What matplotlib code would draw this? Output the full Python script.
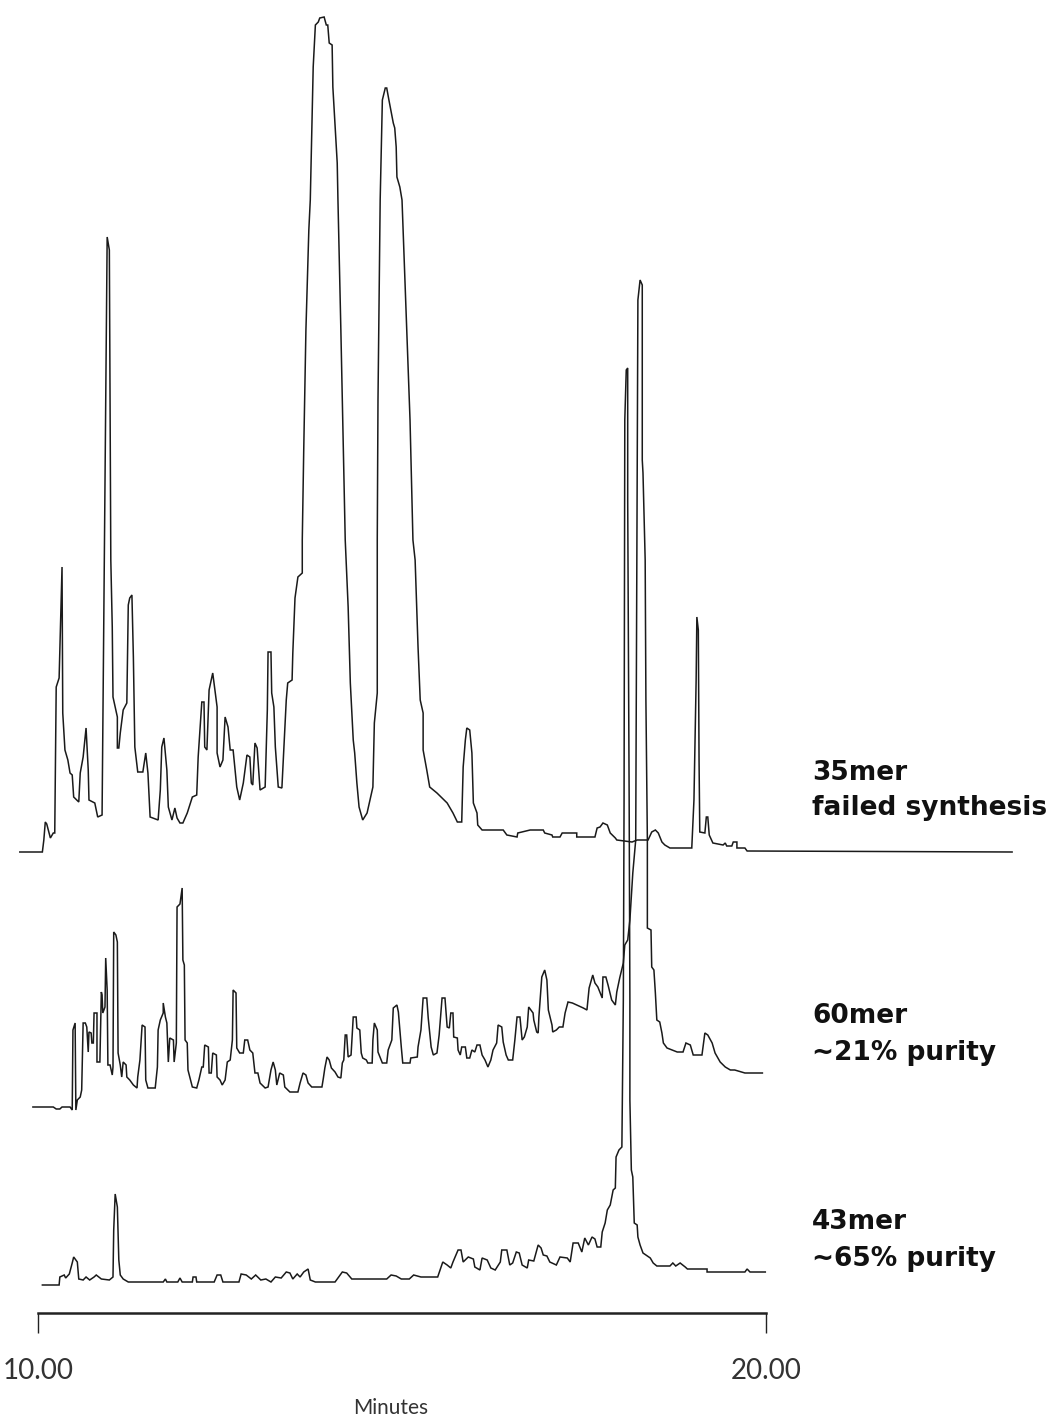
import matplotlib
matplotlib.use('Agg')
import matplotlib.pyplot as plt

# retention time (min) and detector signal (arbitrary units above each trace's baseline)
t_35mer = [9.75, 10.06, 10.08, 10.10, 10.12, 10.17, 10.21, 10.23, 10.25, 10.29, 10.33, 10.34, 10.37, 10.41,
           10.44, 10.47, 10.49, 10.56, 10.58, 10.62, 10.66, 10.69, 10.70, 10.78, 10.82, 10.88, 10.93, 10.95,
           10.98, 11.00, 11.02, 11.03, 11.09, 11.09, 11.11, 11.13, 11.17, 11.22, 11.24, 11.26, 11.29, 11.31,
           11.33, 11.37, 11.44, 11.48, 11.51, 11.54, 11.65, 11.68, 11.70, 11.73, 11.77, 11.79, 11.84, 11.88,
           11.91, 11.95, 11.99, 12.05, 12.12, 12.18, 12.20, 12.25, 12.28, 12.29, 12.32, 12.35, 12.40, 12.46,
           12.46, 12.50, 12.54, 12.57, 12.61, 12.64, 12.68, 12.73, 12.77, 12.82, 12.87, 12.91, 12.93, 12.95,
           12.98, 13.01, 13.05, 13.12, 13.15, 13.16, 13.20, 13.21, 13.24, 13.26, 13.30, 13.35, 13.37, 13.41,
           13.43, 13.49, 13.50, 13.53, 13.57, 13.63, 13.63, 13.65, 13.68, 13.72, 13.74, 13.78, 13.81, 13.85,
           13.87, 13.93, 13.96, 13.98, 14.00, 14.04, 14.05, 14.11, 14.12, 14.16, 14.22, 14.26, 14.29, 14.33,
           14.35, 14.38, 14.41, 14.46, 14.52, 14.56, 14.60, 14.62, 14.66, 14.66, 14.67, 14.70, 14.73, 14.77,
           14.79, 14.82, 14.88, 14.90, 14.92, 14.93, 14.97, 15.00, 15.05, 15.11, 15.15, 15.18, 15.22, 15.25,
           15.29, 15.29, 15.34, 15.38, 15.48, 15.62, 15.70, 15.76, 15.82, 15.84, 15.87, 15.89, 15.93, 15.96,
           15.98, 16.03, 16.04, 16.10, 16.39, 16.44, 16.58, 16.59, 16.76, 16.94, 16.96, 17.06, 17.07, 17.17,
           17.20, 17.40, 17.40, 17.65, 17.68, 17.72, 17.76, 17.82, 17.86, 17.93, 17.95, 18.16, 18.23, 18.38,
           18.43, 18.48, 18.52, 18.57, 18.61, 18.68, 18.98, 19.01, 19.04, 19.05, 19.07, 19.08, 19.09, 19.16,
           19.18, 19.20, 19.22, 19.27, 19.41, 19.44, 19.46, 19.53, 19.55, 19.60, 19.60, 19.71, 19.74, 23.38]
s_35mer = [0, 0, 12, 30, 28, 14, 19, 19, 165, 174, 285, 139, 102, 92,
           79, 77, 55, 50, 79, 95, 124, 82, 52, 49, 35, 37, 452, 615,
           602, 292, 225, 155, 135, 104, 104, 119, 142, 149, 247, 254, 257, 195,
           105, 80, 80, 99, 79, 35, 32, 62, 105, 114, 82, 45, 32, 44,
           34, 29, 29, 39, 55, 57, 95, 150, 150, 105, 102, 162, 179, 145,
           99, 85, 92, 135, 125, 102, 102, 65, 52, 69, 97, 95, 69, 67,
           109, 104, 62, 65, 142, 200, 200, 159, 145, 105, 65, 64, 94, 152,
           169, 172, 199, 254, 275, 279, 312, 402, 522, 622, 652, 785, 827, 830,
           834, 835, 827, 827, 809, 807, 765, 689, 652, 522, 312, 245, 169, 112,
           99, 69, 45, 32, 39, 52, 65, 129, 159, 312, 452, 652, 752, 764,
           764, 752, 729, 724, 705, 675, 665, 652, 552, 432, 312, 292, 205, 152,
           139, 102, 82, 65, 59, 49, 39, 30, 30, 85, 112, 124, 122, 99,
           49, 39, 27, 22, 22, 17, 15, 19, 22, 22, 19, 17, 15, 15,
           19, 19, 15, 15, 24, 25, 29, 27, 19, 14, 12, 10, 12, 12,
           20, 22, 19, 10, 7, 4, 4, 52, 172, 235, 222, 92, 20, 19,
           35, 35, 17, 9, 7, 9, 6, 6, 10, 10, 4, 4, 1, 0]

t_60mer = [9.93, 10.21, 10.25, 10.30, 10.33, 10.44, 10.47, 10.48, 10.51, 10.52, 10.54, 10.58, 10.60, 10.62,
           10.65, 10.67, 10.69, 10.70, 10.73, 10.74, 10.76, 10.77, 10.81, 10.81, 10.85, 10.87, 10.88, 10.89,
           10.92, 10.93, 10.95, 10.96, 10.99, 11.02, 11.03, 11.04, 11.07, 11.09, 11.10, 11.13, 11.15, 11.17,
           11.21, 11.22, 11.26, 11.31, 11.36, 11.37, 11.40, 11.43, 11.47, 11.48, 11.51, 11.61, 11.64, 11.65,
           11.68, 11.72, 11.72, 11.75, 11.77, 11.79, 11.81, 11.86, 11.87, 11.90, 11.91, 11.95, 11.98, 11.99,
           12.01, 12.02, 12.05, 12.06, 12.12, 12.18, 12.21, 12.25, 12.27, 12.29, 12.34, 12.35, 12.38, 12.40,
           12.45, 12.46, 12.50, 12.53, 12.57, 12.60, 12.64, 12.67, 12.68, 12.72, 12.73, 12.77, 12.82, 12.84,
           12.88, 12.91, 12.95, 12.98, 13.02, 13.05, 13.12, 13.16, 13.20, 13.23, 13.26, 13.28, 13.32, 13.37,
           13.39, 13.46, 13.57, 13.60, 13.64, 13.68, 13.71, 13.76, 13.90, 13.92, 13.94, 13.97, 14.00, 14.03,
           14.08, 14.12, 14.16, 14.18, 14.20, 14.22, 14.24, 14.26, 14.30, 14.33, 14.37, 14.38, 14.42, 14.44,
           14.46, 14.51, 14.53, 14.59, 14.60, 14.62, 14.66, 14.67, 14.73, 14.79, 14.81, 14.86, 14.88, 14.93,
           14.95, 14.99, 15.01, 15.11, 15.12, 15.21, 15.22, 15.26, 15.29, 15.34, 15.36, 15.40, 15.43, 15.48,
           15.51, 15.55, 15.59, 15.62, 15.65, 15.67, 15.70, 15.71, 15.76, 15.77, 15.80, 15.82, 15.87, 15.89,
           15.93, 15.96, 16.00, 16.03, 16.07, 16.10, 16.14, 16.18, 16.22, 16.25, 16.30, 16.32, 16.37, 16.39,
           16.43, 16.46, 16.52, 16.55, 16.58, 16.62, 16.65, 16.68, 16.72, 16.74, 16.80, 16.81, 16.85, 16.87,
           16.88, 16.92, 16.96, 16.99, 17.01, 17.06, 17.07, 17.12, 17.16, 17.21, 17.24, 17.28, 17.34, 17.40,
           17.49, 17.54, 17.57, 17.62, 17.65, 17.69, 17.75, 17.76, 17.80, 17.83, 17.88, 17.93, 17.95, 17.99,
           18.04, 18.06, 18.10, 18.13, 18.17, 18.21, 18.24, 18.27, 18.30, 18.30, 18.31, 18.34, 18.35, 18.37,
           18.37, 18.42, 18.43, 18.46, 18.48, 18.50, 18.54, 18.57, 18.59, 18.64, 18.71, 18.78, 18.86, 18.90,
           18.96, 19.00, 19.12, 19.16, 19.20, 19.26, 19.30, 19.37, 19.44, 19.51, 19.57, 19.71, 19.95]
s_60mer = [1, 1, -1, -1, 1, 1, -2, 78, 85, -2, 8, 11, 18, 85,
           85, 81, 56, 76, 75, 65, 65, 95, 95, 46, 46, 116, 113, 95,
           101, 150, 118, 43, 43, 33, 41, 176, 173, 166, 55, 43, 31, 46,
           43, 31, 28, 23, 20, 31, 48, 83, 81, 28, 20, 20, 41, 78,
           88, 95, 105, 91, 85, 46, 70, 68, 46, 65, 201, 204, 220, 148,
           143, 68, 65, 38, 21, 20, 28, 41, 41, 63, 61, 35, 35, 55,
           53, 31, 28, 23, 28, 46, 48, 68, 118, 115, 60, 55, 55, 68,
           68, 58, 55, 35, 35, 25, 20, 21, 38, 46, 38, 23, 35, 33,
           21, 16, 16, 25, 35, 33, 25, 21, 21, 30, 40, 51, 48, 40,
           36, 31, 30, 45, 48, 73, 73, 51, 53, 91, 91, 80, 78, 55,
           50, 48, 45, 45, 68, 85, 78, 56, 45, 45, 58, 68, 100, 103,
           96, 61, 45, 45, 50, 51, 61, 78, 110, 110, 90, 61, 53, 55,
           73, 110, 110, 81, 80, 95, 95, 71, 70, 58, 53, 61, 61, 50,
           50, 58, 56, 63, 63, 53, 48, 41, 48, 58, 65, 83, 81, 66,
           53, 48, 48, 68, 91, 91, 68, 71, 81, 101, 95, 88, 76, 75,
           91, 131, 138, 128, 98, 83, 76, 78, 81, 81, 95, 106, 105, 103,
           100, 98, 120, 133, 125, 121, 110, 131, 131, 123, 108, 103, 116, 130,
           145, 163, 168, 188, 235, 268, 808, 828, 823, 648, 635, 548, 408, 268,
           180, 178, 141, 138, 115, 88, 86, 75, 65, 60, 58, 56, 56, 65,
           63, 53, 53, 75, 73, 65, 55, 46, 41, 38, 38, 35, 35]

t_43mer = [10.06, 10.29, 10.30, 10.36, 10.38, 10.43, 10.47, 10.49, 10.54, 10.56, 10.62, 10.66, 10.71, 10.77,
           10.80, 10.87, 10.98, 11.03, 11.04, 11.06, 11.09, 11.11, 11.13, 11.17, 11.24, 11.72, 11.75, 11.77,
           11.92, 11.95, 11.98, 12.12, 12.13, 12.17, 12.18, 12.42, 12.46, 12.51, 12.54, 12.76, 12.79, 12.86,
           12.93, 12.99, 13.06, 13.13, 13.20, 13.26, 13.34, 13.41, 13.46, 13.50, 13.56, 13.60, 13.65, 13.71,
           13.74, 13.81, 14.08, 14.13, 14.18, 14.24, 14.31, 14.79, 14.85, 14.92, 14.99, 15.10, 15.16, 15.26,
           15.49, 15.56, 15.62, 15.67, 15.70, 15.77, 15.81, 15.84, 15.91, 15.98, 16.00, 16.07, 16.10, 16.17,
           16.22, 16.28, 16.35, 16.37, 16.44, 16.48, 16.52, 16.57, 16.61, 16.65, 16.72, 16.74, 16.81, 16.87,
           16.91, 16.94, 16.99, 17.03, 17.12, 17.17, 17.27, 17.31, 17.35, 17.42, 17.47, 17.51, 17.56, 17.61,
           17.65, 17.68, 17.73, 17.75, 17.79, 17.82, 17.86, 17.90, 17.93, 17.94, 17.98, 18.02, 18.04, 18.05,
           18.06, 18.08, 18.10, 18.10, 18.12, 18.13, 18.13, 18.15, 18.17, 18.19, 18.23, 18.24, 18.27, 18.31,
           18.37, 18.41, 18.45, 18.50, 18.68, 18.72, 18.76, 18.82, 18.89, 18.92, 19.19, 19.19, 19.71, 19.74,
           19.78, 19.99]
s_43mer = [-3, -3, 5, 7, 4, 8, 19, 25, 20, 3, 2, 5, 2, 5,
           7, 3, 2, 5, 52, 88, 75, 22, 7, 3, 0, 0, 3, 0,
           0, 4, 0, 0, 5, 5, 0, 0, 7, 7, 0, 0, 8, 7,
           3, 7, 2, 3, 0, 5, 4, 10, 9, 3, 8, 5, 10, 13,
           2, 0, 0, 5, 10, 9, 3, 3, 7, 6, 3, 3, 7, 5,
           5, 20, 17, 14, 20, 32, 32, 20, 25, 23, 15, 12, 24, 22,
           14, 12, 20, 32, 32, 17, 19, 30, 29, 17, 14, 22, 21, 37,
           34, 27, 26, 20, 17, 25, 24, 20, 39, 39, 30, 44, 37, 45,
           43, 35, 35, 50, 59, 72, 77, 92, 94, 125, 132, 135, 282, 482,
           862, 912, 914, 782, 482, 282, 182, 112, 105, 59, 57, 45, 37, 29,
           26, 24, 19, 16, 16, 19, 16, 19, 15, 13, 13, 10, 10, 13,
           10, 10]

labels = [('35mer', 'failed synthesis'), ('60mer', '~21% purity'), ('43mer', '~65% purity')]
ticks = [10, 20]
tick_labels = ['10.00', '20.00']

fig = plt.figure(figsize=(10.56, 14.28), dpi=100)
ax = fig.add_axes([0, 0, 1, 1])

offsets = [430, 174, 0]
traces = [(t_35mer, s_35mer), (t_60mer, s_60mer), (t_43mer, s_43mer)]
for (t, s), off in zip(traces, offsets):
    ax.plot(t, [v + off for v in s], color='#1a1a1a', lw=1.1, solid_joinstyle='miter')

ax.set_xlim(9.478, 23.983)
ax.set_ylim(-146, 1282)

# label blocks to the right of each trace
label_y = [(502, 467), (259, 222), (53, 16)]
for (l1, l2), (y1, y2) in zip(labels, label_y):
    ax.text(20.63, y1, l1, fontsize=19, fontweight='bold', family='DejaVu Sans', color='#111111')
    ax.text(20.63, y2, l2, fontsize=19, fontweight='bold', family='DejaVu Sans', color='#111111')

# time axis
for side in ['top', 'left', 'right']:
    ax.spines[side].set_visible(False)
ax.spines['bottom'].set_position(('data', -31))
ax.spines['bottom'].set_bounds(10, 20)
ax.spines['bottom'].set_linewidth(1.8)
ax.spines['bottom'].set_color('#222222')
ax.set_yticks([])
ax.set_xticks(ticks)
ax.set_xticklabels(tick_labels, fontsize=20, family='Lato', fontweight='normal', color='#333333')
ax.tick_params(axis='x', direction='out', length=14.4, width=1.0, color='#222222', pad=18)
ax.text(14.84, -126, 'Minutes', fontsize=15, family='Lato', fontweight='normal', color='#333333',
        ha='center', va='center')
ax.patch.set_alpha(0)

fig.savefig('out.png', dpi=100)
